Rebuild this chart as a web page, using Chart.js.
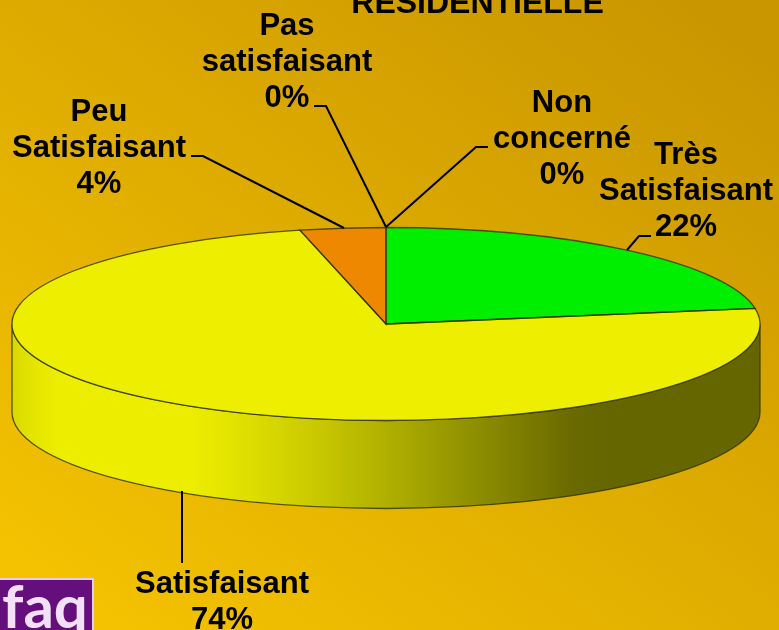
<!DOCTYPE html>
<html><head><meta charset="utf-8">
<style>html,body{margin:0;padding:0;background:#e0b000;overflow:hidden}canvas{display:block}</style>
<script src="https://cdn.jsdelivr.net/npm/chart.js@4"></script>
</head><body>
<canvas id="c" width="779" height="630"></canvas>
<script>
const categories = ["Très Satisfaisant","Satisfaisant","Peu Satisfaisant","Pas satisfaisant","Non concerné"];
const shares = [22.4, 73.9, 3.7, 0, 0];
const sliceColors = ["#00EE00","#EEEE00","#EE8800","#D9D900","#8888EE"];
const labelLines = [["Très","Satisfaisant"],["Satisfaisant"],["Peu","Satisfaisant"],["Pas","satisfaisant"],["Non","concerné"]];
const titleText = "RÉSIDENTIELLE";

const pie3d = {cx:386, cy:324, rx:374, ry:96.5, depth:88};
const labelPlace = [[686,155],[222,584],[99,112],[287,26],[562,103]];
const leaders = [
  [[651,236],[639,236],[627,250]],
  [[182,491],[182,563]],
  [[191,156],[203,156],[344,228]],
  [[314,106],[326,106],[386,227]],
  [[488,147],[476,147],[386,227]]
];
const edge = "rgba(50,50,0,0.8)";

const plugin3d = {
  id:"plugin3d",
  beforeDraw(chart){
    const {ctx,width,height}=chart;
    const g=ctx.createLinearGradient(150,660,650,-30);
    g.addColorStop(0,"#F4C200"); g.addColorStop(1,"#C99600");
    ctx.fillStyle=g; ctx.fillRect(0,0,width,height);
  },
  beforeDatasetsDraw(chart){
    const {ctx}=chart, p=pie3d, arc=chart.getDatasetMeta(0).data[0];
    // side wall
    const w=ctx.createLinearGradient(p.cx-p.rx,0,p.cx+p.rx,0);
    [[0,"#D8D800"],[.02,"#E2E200"],[.06,"#EDED00"],[.24,"#EDED00"],[.30,"#E2E200"],[.41,"#C8C800"],[.50,"#B0B000"],[.62,"#8E8E00"],[.75,"#696900"],[.80,"#666600"],[1,"#666600"]]
      .forEach(s=>w.addColorStop(s[0],s[1]));
    ctx.save();
    ctx.beginPath();
    ctx.ellipse(p.cx,p.cy,p.rx,p.ry,0,0,Math.PI);
    ctx.lineTo(p.cx-p.rx,p.cy+p.depth);
    ctx.ellipse(p.cx,p.cy+p.depth,p.rx,p.ry,0,Math.PI,0,true);
    ctx.closePath();
    ctx.fillStyle=w; ctx.fill();
    ctx.strokeStyle=edge; ctx.lineWidth=1.3; ctx.stroke();
    ctx.restore();
    // squash the library's round pie to the tilted ellipse
    ctx.save();
    ctx.translate(p.cx,p.cy);
    ctx.scale(p.rx/arc.outerRadius,p.ry/arc.outerRadius);
    ctx.translate(-arc.x,-arc.y);
  },
  afterDatasetsDraw(chart){
    const {ctx}=chart, p=pie3d;
    ctx.restore();
    const arcs=chart.getDatasetMeta(0).data;
    ctx.save();
    ctx.strokeStyle=edge; ctx.lineWidth=1.3;
    arcs.forEach(a=>{
      if(a.endAngle-a.startAngle<1e-6) return;
      ctx.beginPath();
      ctx.moveTo(p.cx,p.cy);
      ctx.ellipse(p.cx,p.cy,p.rx,p.ry,0,a.startAngle,a.endAngle);
      ctx.closePath();
      ctx.stroke();
    });
    // leader lines
    ctx.strokeStyle="#000"; ctx.lineWidth=2;
    leaders.forEach(l=>{
      ctx.beginPath();
      l.forEach((q,i)=>i?ctx.lineTo(q[0],q[1]):ctx.moveTo(q[0],q[1]));
      ctx.stroke();
    });
    // labels
    ctx.fillStyle="#000"; ctx.textAlign="center"; ctx.textBaseline="middle";
    ctx.font="bold 31px 'Liberation Sans'";
    categories.forEach((c,i)=>{
      const lines=labelLines[i].concat([Math.round(shares[i])+"%"]);
      lines.forEach((t,k)=>ctx.fillText(t,labelPlace[i][0],labelPlace[i][1]+k*36));
    });
    // title, cropped by the top edge
    ctx.font="bold 32px 'Liberation Sans'";
    ctx.textBaseline="alphabetic";
    ctx.fillText(titleText,477.5,13);
    // logo
    ctx.fillStyle="#E4CCEA"; ctx.fillRect(0,578,94,52);
    ctx.fillStyle="#650F7C"; ctx.fillRect(0,580,92,50);
    ctx.fillStyle="#F3E0F6"; ctx.textAlign="left";
    ctx.font="bold 60px 'Lato'";
    ctx.fillText("faq",2,628);
    ctx.restore();
  }
};

new Chart(document.getElementById("c"),{
  type:"pie",
  data:{labels:categories,datasets:[{data:shares,backgroundColor:sliceColors,borderWidth:0,hoverOffset:0}]},
  options:{responsive:false,animation:false,layout:{padding:0},
    plugins:{legend:{display:false},title:{display:false},tooltip:{enabled:false}}},
  plugins:[plugin3d]
});
</script>
</body></html>
